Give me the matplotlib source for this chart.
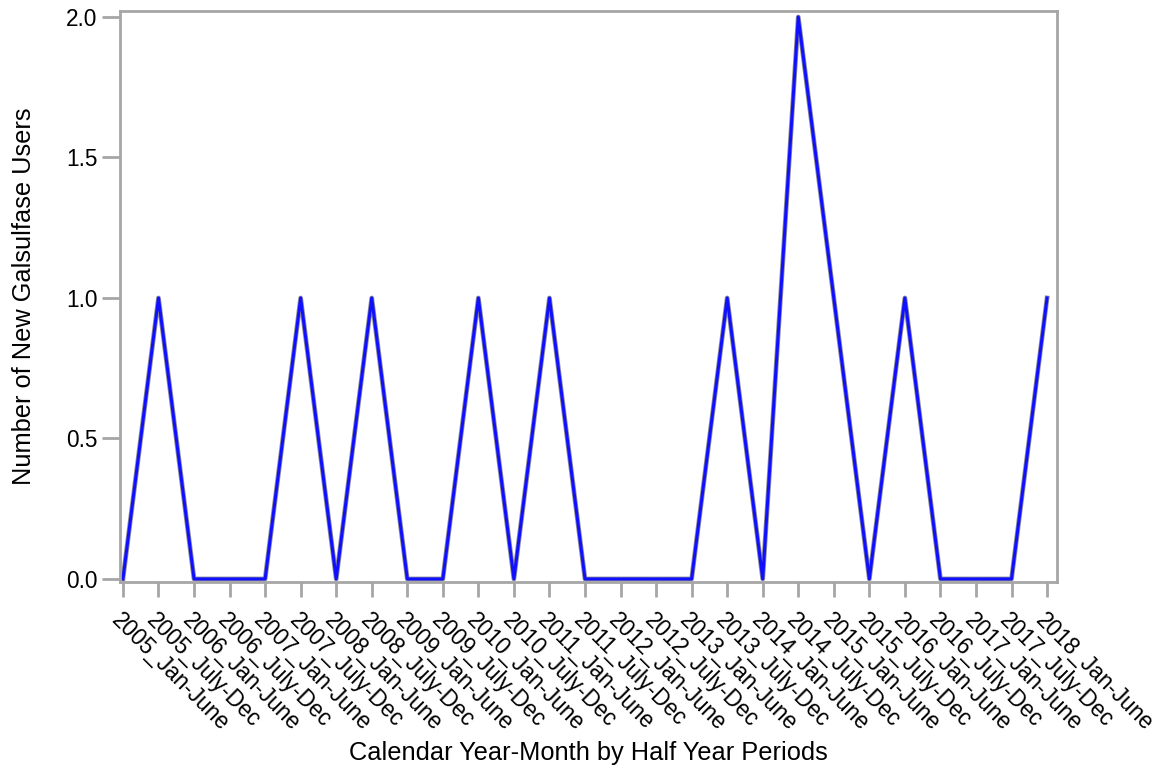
import numpy as np
import matplotlib.pyplot as plt
import matplotlib.patheffects as pe

plt.rcParams['font.family'] = ['Liberation Sans', 'DejaVu Sans']

# half-year periods and counts of new users
years = list(range(2005, 2018))
periods = []
for y in years:
    periods.append("%d_Jan-June" % y)
    periods.append("%d_July-Dec" % y)
periods.append("2018_Jan-June")

new_users = [0, 1, 0, 0, 0, 1, 0, 1, 0, 0, 1, 0, 1, 0,
             0, 0, 0, 1, 0, 2, 1, 0, 1, 0, 0, 0, 1]

GRAY = "#a6a6a6"

fig = plt.figure(figsize=(11.59, 7.74), dpi=100)
ax = fig.add_axes([0.1035, 0.248, 0.8085, 0.7377])

x = np.arange(len(periods))
ax.plot(x, new_users, color="#1010ff", linewidth=2.2,
        path_effects=[pe.Stroke(linewidth=3.4, foreground="#8c8c9c"), pe.Normal()])

ax.set_xlim(-0.084, len(periods) - 1 + 0.28)
ax.set_ylim(-0.011, 2.021)
ax.set_yticks([0.0, 0.5, 1.0, 1.5, 2.0])
ax.set_yticklabels(["0.0", "0.5", "1.0", "1.5", "2.0"])
ax.set_xticks(x)
ax.set_xticklabels(periods, rotation=-45, ha="left", va="top",
                   rotation_mode="anchor")

for s in ax.spines.values():
    s.set_color(GRAY)
    s.set_linewidth(2)
ax.tick_params(axis="both", colors=GRAY, width=2, length=11, labelsize=16.3,
               labelcolor="black")
ax.tick_params(axis="x", pad=8)
ax.tick_params(axis="y", length=13, pad=3)

ax.set_ylabel("Number of New Galsulfase Users", fontsize=18.3, labelpad=22)
ax.set_xlabel("Calendar Year-Month by Half Year Periods", fontsize=18.3, labelpad=4)

fig.savefig("out.png", dpi=100)
